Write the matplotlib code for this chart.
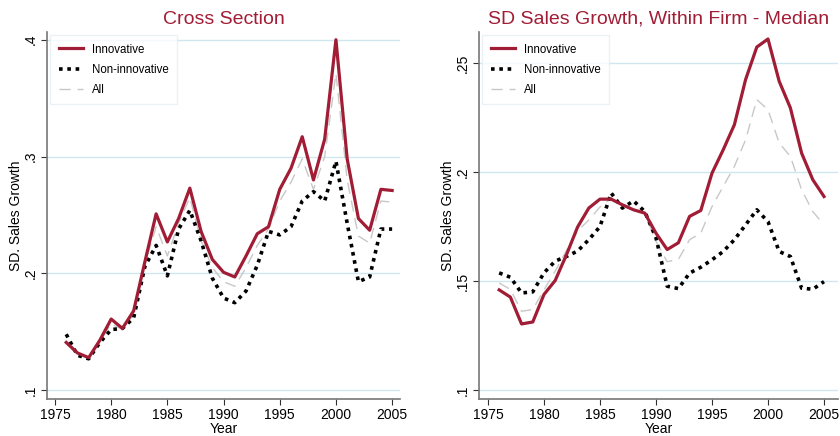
import numpy as np
import matplotlib.pyplot as plt

plt.rcParams['font.family'] = ['Liberation Sans', 'DejaVu Sans']

years = np.arange(1976, 2006)

# Cross section
cs_innov = [0.141, 0.132, 0.128, 0.143, 0.161, 0.153, 0.168, 0.210, 0.251, 0.227,
            0.247, 0.273, 0.236, 0.212, 0.201, 0.197, 0.215, 0.234, 0.240, 0.272,
            0.290, 0.317, 0.280, 0.315, 0.400, 0.298, 0.247, 0.237, 0.272, 0.271]
cs_non = [0.148, 0.130, 0.127, 0.141, 0.152, 0.153, 0.162, 0.206, 0.224, 0.198,
          0.238, 0.254, 0.228, 0.196, 0.179, 0.175, 0.185, 0.207, 0.236, 0.233,
          0.240, 0.262, 0.270, 0.262, 0.296, 0.243, 0.193, 0.197, 0.238, 0.238]
cs_all = [0.140, 0.131, 0.127, 0.142, 0.157, 0.152, 0.165, 0.208, 0.240, 0.215,
          0.243, 0.265, 0.228, 0.205, 0.193, 0.189, 0.205, 0.224, 0.238, 0.262,
          0.278, 0.298, 0.272, 0.300, 0.371, 0.280, 0.232, 0.226, 0.262, 0.261]

# Within firm - median
wf_innov = [0.146, 0.1427, 0.1304, 0.1313, 0.1439, 0.1503, 0.162, 0.1748, 0.1835, 0.1876,
            0.1876, 0.185, 0.1827, 0.1812, 0.172, 0.1645, 0.1676, 0.1797, 0.1824, 0.1995,
            0.2102, 0.2217, 0.2424, 0.2573, 0.261, 0.2416, 0.2294, 0.2087, 0.1965, 0.1888]
wf_non = [0.1538, 0.1518, 0.1446, 0.1451, 0.1538, 0.1592, 0.1613, 0.1638, 0.169, 0.175,
          0.1904, 0.1835, 0.1868, 0.1819, 0.1699, 0.1477, 0.1466, 0.1537, 0.1564, 0.1598,
          0.1636, 0.169, 0.1758, 0.1827, 0.1773, 0.1636, 0.1613, 0.1468, 0.1463, 0.1498]
wf_all = [0.1492, 0.1462, 0.1362, 0.137, 0.146, 0.1546, 0.164, 0.173, 0.178, 0.184,
          0.188, 0.1845, 0.1827, 0.181, 0.1683, 0.1589, 0.16, 0.169, 0.172, 0.1842,
          0.1934, 0.2026, 0.2148, 0.2332, 0.2286, 0.2133, 0.2072, 0.1919, 0.1819, 0.1758]

red = '#a11d35'
grid_col = '#cfe6ee'
spine_col = '#777777'

fig = plt.figure(figsize=(8.4, 4.36), dpi=100)
W, H = 840, 436
ax1 = fig.add_axes([47 / W, 1 - 399 / H, 353 / W, 367 / H])
ax2 = fig.add_axes([479 / W, 1 - 399 / H, 359 / W, 367 / H])


def style(ax, innov, non, allv, yt, ylabs, ylim, xlim, title):
    ax.plot(years, innov, color=red, lw=2.3, label='Innovative', zorder=4)
    ax.plot(years, non, color='black', lw=2.6, linestyle=(0, (1, 1.3)),
            label='Non-innovative', zorder=3)
    ax.plot(years, allv, color='#c8c8c8', lw=1.0, linestyle=(0, (8, 5)),
            label='All', zorder=2)
    ax.set_ylim(*ylim)
    ax.set_xlim(*xlim)
    ax.set_yticks(yt)
    ax.set_yticklabels(ylabs, rotation=90, va='center')
    ax.set_xticks(range(1975, 2006, 5))
    ax.grid(axis='y', color=grid_col, lw=1.0)
    ax.set_axisbelow(True)
    for s in ['top', 'right']:
        ax.spines[s].set_visible(False)
    for s in ['left', 'bottom']:
        ax.spines[s].set_color(spine_col)
        ax.spines[s].set_linewidth(1.2)
    ax.tick_params(colors='#333333', labelcolor='black', labelsize=10,
                   length=4, width=0.8, direction='out', pad=2.5)
    ax.set_xlabel('Year', fontsize=10, labelpad=0)
    ax.set_ylabel('SD. Sales Growth', fontsize=10, labelpad=1)
    ax.set_title(title, color=red, fontsize=14, pad=6)
    leg = ax.legend(loc='upper left', fontsize=8.3, frameon=True, fancybox=False,
                    handlelength=2.1, handletextpad=0.8, borderpad=0.7,
                    labelspacing=0.7, borderaxespad=0.3)
    leg.get_frame().set_edgecolor('#e6eef2')
    leg.get_frame().set_linewidth(1.0)


style(ax1, cs_innov, cs_non, cs_all, [0.1, 0.2, 0.3, 0.4], ['.1', '.2', '.3', '.4'],
      (0.0926, 0.4066), (1974.29, 2005.7), 'Cross Section')

style(ax2, wf_innov, wf_non, wf_all, [0.1, 0.15, 0.2, 0.25], ['.1', '.15', '.2', '.25'],
      (0.096, 0.2642), (1974.2, 2006.25), 'SD Sales Growth, Within Firm - Median')

fig.savefig('out.png', dpi=100)
